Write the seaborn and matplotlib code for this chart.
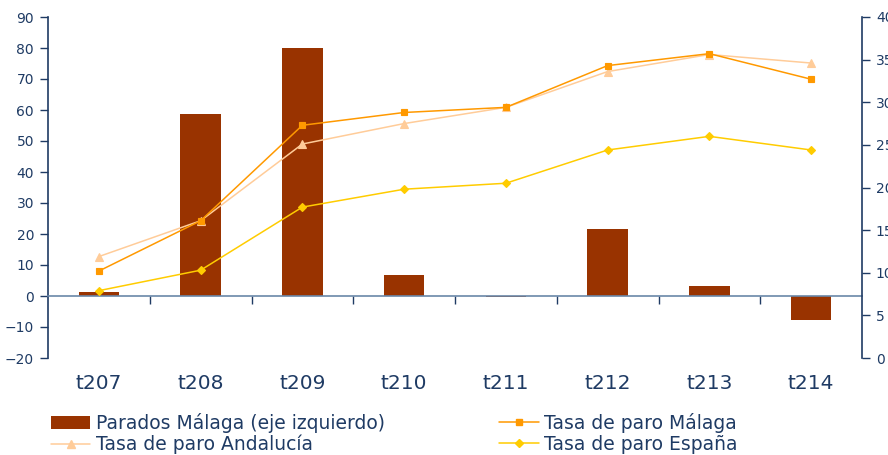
import matplotlib
matplotlib.use('Agg')
import matplotlib.pyplot as plt
import seaborn as sns
import pandas as pd
from matplotlib.patches import Patch
from matplotlib.lines import Line2D

categories = ['t207', 't208', 't209', 't210', 't211', 't212', 't213', 't214']
parados_malaga = [1.4, 58.7, 80.0, 6.9, -0.4, 21.7, 3.3, -7.7]
tasa_malaga = [10.2, 16.1, 27.3, 28.8, 29.4, 34.3, 35.7, 32.7]
tasa_andalucia = [11.9, 16.1, 25.1, 27.5, 29.4, 33.6, 35.6, 34.6]
tasa_espana = [7.9, 10.3, 17.7, 19.8, 20.5, 24.4, 26.0, 24.4]
left_ticks = list(range(-20, 100, 10))
right_ticks = list(range(0, 45, 5))
labels = ['Parados Málaga (eje izquierdo)', 'Tasa de paro Málaga',
          'Tasa de paro Andalucía', 'Tasa de paro España']

NAVY = '#1F3B64'
ZERO = '#6A87A8'
C_BAR = '#993300'
C_MAL = '#FF9900'
C_AND = '#FFCC99'
C_ESP = '#FFCC00'

sns.set_style('white')
plt.rcParams['font.family'] = ['DejaVu Sans']

fig = plt.figure(figsize=(8.88, 4.55), dpi=100)
ax = fig.add_axes([48 / 888, 97 / 455, 814 / 888, 341 / 455])

df = pd.DataFrame({'cat': categories, 'val': parados_malaga})
sns.barplot(data=df, x='cat', y='val', order=categories, color=C_BAR,
            saturation=1, width=0.4, linewidth=0, ax=ax, zorder=2)

ax2 = ax.twinx()
series = [
    (tasa_andalucia, C_AND, '^', 6),
    (tasa_malaga, C_MAL, 's', 5),
    (tasa_espana, C_ESP, 'D', 4.5),
]
for vals, col, mk, ms in series:
    sns.pointplot(x=categories, y=vals, order=categories, color=col,
                  markers=mk, markersize=ms, linewidth=1.1, errorbar=None,
                  ax=ax2)

ax.set_xlim(-0.5, len(categories) - 0.5)
ax2.set_xlim(-0.5, len(categories) - 0.5)
ax.set_ylim(-20, 90)
ax2.set_ylim(0, 40)
ax.set_yticks(left_ticks)
ax2.set_yticks(right_ticks)
ax.set_xlabel('')
ax.set_ylabel('')
ax2.set_xlabel('')
ax2.set_ylabel('')

for s in ['top', 'right']:
    ax.spines[s].set_visible(False)
ax.spines['left'].set_color(NAVY)
ax.spines['left'].set_linewidth(1.2)
ax.spines['bottom'].set_position(('data', 0))
ax.spines['bottom'].set_color(ZERO)
ax.spines['bottom'].set_linewidth(1.2)
for s in ['top', 'left', 'bottom']:
    ax2.spines[s].set_visible(False)
ax2.spines['right'].set_color(NAVY)
ax2.spines['right'].set_linewidth(1.2)

ax.tick_params(axis='y', direction='out', length=6, width=1, color=NAVY,
               labelcolor=NAVY, labelsize=10, pad=4, left=True)
ax2.tick_params(axis='y', direction='out', length=6, width=1, color=NAVY,
                labelcolor=NAVY, labelsize=10, pad=4, right=True)
ax.set_xticks(range(len(categories)))
ax.set_xticklabels(categories)
ax.set_xticks([i + 0.5 for i in range(len(categories) - 1)], minor=True)
ax.tick_params(axis='x', which='major', length=0, pad=56, labelsize=14.5,
               labelcolor=NAVY, bottom=True)
ax.tick_params(axis='x', which='minor', direction='out', length=6, width=1,
               color=NAVY, bottom=True)
ax2.tick_params(axis='x', which='both', length=0, labelbottom=False)
ax.grid(False)
ax2.grid(False)

handles = [
    Patch(facecolor=C_BAR, edgecolor='none'),
    Line2D([], [], color=C_AND, marker='^', markersize=6, linewidth=1.1),
    Line2D([], [], color=C_MAL, marker='s', markersize=5, linewidth=1.1),
    Line2D([], [], color=C_ESP, marker='D', markersize=4.5, linewidth=1.1),
]
leg_labels = [labels[0], labels[2], labels[1], labels[3]]
leg = fig.legend(handles, leg_labels, ncol=2, loc='upper left',
                 bbox_to_anchor=(51 / 888, 1 - 413 / 455), frameon=False,
                 fontsize=13.5, handlelength=2.1, handletextpad=0.3,
                 columnspacing=6.1, labelspacing=0.1, borderpad=0,
                 borderaxespad=0)
for t in leg.get_texts():
    t.set_color(NAVY)

fig.savefig('out.png', dpi=100)
